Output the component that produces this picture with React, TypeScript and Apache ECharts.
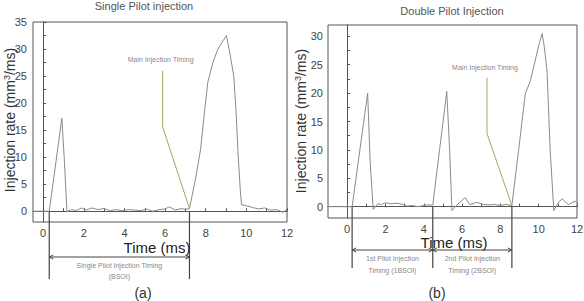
import React, { useEffect, useRef } from "react";
import * as echarts from "echarts";

// Single pilot injection (a)
const singleTime = [-0.5, 0.3, 0.92, 1.05, 1.17, 1.4, 1.6, 1.9, 2.1, 2.4, 2.7, 3.0, 3.3, 3.6, 3.9, 4.2, 4.5, 4.8, 5.1, 5.4, 5.7, 6.0, 6.2, 6.5, 6.8, 7.0, 7.2, 7.5, 7.75, 7.9, 8.1, 8.35, 8.6, 8.85, 9.02, 9.2, 9.38, 9.5, 9.58, 9.7, 9.76, 10.0, 10.3, 10.6, 10.9, 11.2, 11.5, 11.8, 12.0];
const singleRate = [0, 0, 17.2, 9, -0.1, 0.3, 0.1, 0.6, 0.2, 0.6, 0.3, 0.5, 0.1, 0.3, 0.1, 0.3, 0.2, 0.1, 0.4, 0.0, 0.3, 0.4, 0.8, 0.2, 0.5, 0.3, 0.5, 6, 11.5, 17, 23.8, 27.5, 30, 31.5, 32.5, 29, 25, 18, 11.5, 4, 1.2, 1.0, 0.7, 0.4, 0.6, 0.2, 0.3, -0.2, 0.3];

// Double pilot injection (b)
const doubleTime = [-1, 0.26, 1.07, 1.2, 1.36, 1.6, 1.8, 2.0, 2.3, 2.6, 2.9, 3.1, 3.4, 3.7, 4.0, 4.2, 4.47, 5.2, 5.35, 5.47, 5.7, 5.9, 6.16, 6.4, 6.77, 7.1, 7.4, 7.7, 8.0, 8.3, 8.6, 8.95, 9.3, 9.57, 9.8, 10.0, 10.18, 10.3, 10.44, 10.6, 10.79, 11.0, 11.22, 11.55, 11.9, 12.0];
const doubleRate = [0, 0, 20, 8, -0.5, 0.5, 0.4, 0.7, 0.5, 0.6, 0.4, 0.1, 0.2, 0.0, 0.2, 0.3, 0.3, 20.3, 10, -0.7, 0.2, 0.8, 1.6, 0.35, 0.75, 0.4, 0.3, 0.4, 0.2, 0.4, 0.2, 9.9, 19.9, 22.2, 25.5, 28.4, 30.5, 28, 23.7, 9.9, -0.7, 0.6, 1.4, 0.35, 1.0, 0.6];

// Annotation pointer lines ("Main Injection Timing")
const singlePointerTime = [5.88, 5.88, 7.2];
const singlePointerRate = [26, 15.6, 0.5];
const doublePointerTime = [7.3, 7.3, 8.6];
const doublePointerRate = [22.7, 12.9, 0.2];

// Injection timing markers (ms)
const singleMarks = [0.3, 7.2];
const doubleMarks = [0.26, 4.47, 8.6];

// Tick labels
const xTicks = [0, 2, 4, 6, 8, 10, 12];
const xMinor = [0, 1, 2, 3, 4, 5, 6, 7, 8, 9, 10, 11, 12];
const singleYTicks = [0, 5, 10, 15, 20, 25, 30, 35];
const singleYMinor = [0, 2.5, 5, 7.5, 10, 12.5, 15, 17.5, 20, 22.5, 25, 27.5, 30, 32.5, 35];
const doubleYTicks = [0, 5, 10, 15, 20, 25, 30];
const doubleYMinor = [0, 2.5, 5, 7.5, 10, 12.5, 15, 17.5, 20, 22.5, 25, 27.5, 30];

const FONT = "Liberation Sans";
const AXIS = "#555";
const LINE = "#8a8a8a";
const OLIVE = "#a8a65c";

const zip = (a: number[], b: number[]) => a.map((v, i) => [v, b[i]]);

function xAxisOpt(gridIndex: number, min: number) {
  return {
    type: "value",
    gridIndex,
    min,
    max: 12,
    axisLine: { show: true, lineStyle: { color: AXIS, width: 1 } },
    axisTick: { show: true, inside: true, length: 3, customValues: xMinor, lineStyle: { color: AXIS } },
    axisLabel: { customValues: xTicks, color: "#444", fontSize: 11, fontFamily: FONT, margin: 5 },
    splitLine: { show: false },
  };
}

function yAxisOpt(gridIndex: number, min: number, max: number, ticks: number[], minor: number[], margin: number) {
  return {
    type: "value",
    gridIndex,
    min,
    max,
    axisLine: { show: true, lineStyle: { color: AXIS, width: 1 } },
    axisTick: { show: true, inside: true, length: 3, customValues: minor, lineStyle: { color: AXIS } },
    axisLabel: { customValues: ticks, color: "#444", fontSize: 11, fontFamily: FONT, margin },
    splitLine: { show: false },
  };
}

export default function App() {
  const ref = useRef<HTMLDivElement>(null);
  useEffect(() => {
    if (!ref.current) return;
    const chart = echarts.init(ref.current, undefined, { renderer: "svg" });
    chart.setOption({
      animation: false,
      backgroundColor: "#fff",
      grid: [
        { left: 33, top: 22, width: 254, height: 200, show: true, borderColor: AXIS, borderWidth: 1, backgroundColor: "transparent", containLabel: false, outerBoundsMode: "none" },
        { left: 328, top: 25, width: 249, height: 193, show: true, borderColor: AXIS, borderWidth: 1, backgroundColor: "transparent", containLabel: false, outerBoundsMode: "none" },
      ],
      xAxis: [xAxisOpt(0, -0.5), xAxisOpt(1, -1)],
      yAxis: [
        yAxisOpt(0, -2, 35, singleYTicks, singleYMinor, 6),
        yAxisOpt(1, -2, 32, doubleYTicks, doubleYMinor, 5),
      ],
      series: [
        { type: "line", xAxisIndex: 0, yAxisIndex: 0, data: zip(singleTime, singleRate), showSymbol: false, lineStyle: { color: LINE, width: 1 }, silent: true },
        { type: "line", xAxisIndex: 1, yAxisIndex: 1, data: zip(doubleTime, doubleRate), showSymbol: false, lineStyle: { color: LINE, width: 1 }, silent: true },
        { type: "line", xAxisIndex: 0, yAxisIndex: 0, data: zip(singlePointerTime, singlePointerRate), showSymbol: false, lineStyle: { color: OLIVE, width: 1 }, silent: true },
        { type: "line", xAxisIndex: 1, yAxisIndex: 1, data: zip(doublePointerTime, doublePointerRate), showSymbol: false, lineStyle: { color: OLIVE, width: 1 }, silent: true },
      ],
    });

    const px = (g: number, x: number, y: number) =>
      chart.convertToPixel({ xAxisIndex: g, yAxisIndex: g } as any, [x, y]) as number[];

    const graphics: any[] = [];
    const dark = "#444";
    const textGray = "#888";
    const smallText = (x: number, y: number, text: string) => ({
      type: "text", x, y,
      style: { text, fontSize: 7, fontFamily: FONT, fill: textGray, align: "center", verticalAlign: "middle" },
      silent: true,
    });
    const arrowLine = (x1: number, x2: number, y: number) => {
      graphics.push({ type: "line", shape: { x1, y1: y, x2, y2: y }, style: { stroke: dark, lineWidth: 1 }, silent: true });
      graphics.push({ type: "polyline", shape: { points: [[x1 + 4, y - 2], [x1, y], [x1 + 4, y + 2]] }, style: { stroke: dark, lineWidth: 1, fill: null }, silent: true });
      graphics.push({ type: "polyline", shape: { points: [[x2 - 4, y - 2], [x2, y], [x2 - 4, y + 2]] }, style: { stroke: dark, lineWidth: 1, fill: null }, silent: true });
    };

    // Left panel markers
    const sm = singleMarks.map((t) => px(0, t, 0));
    sm.forEach((p) => graphics.push({ type: "line", shape: { x1: p[0], y1: p[1], x2: p[0], y2: 279 }, style: { stroke: dark, lineWidth: 1.2 }, silent: true }));
    arrowLine(sm[0][0], sm[1][0], 257);
    graphics.push(smallText((sm[0][0] + sm[1][0]) / 2, 265, "Single Pilot Injection Timing"));
    graphics.push(smallText((sm[0][0] + sm[1][0]) / 2, 276, "(BSOI)"));

    // Right panel markers
    const dm = doubleMarks.map((t) => px(1, t, 0));
    dm.forEach((p) => graphics.push({ type: "line", shape: { x1: p[0], y1: p[1], x2: p[0], y2: 268 }, style: { stroke: dark, lineWidth: 1.2 }, silent: true }));
    arrowLine(dm[0][0], dm[1][0], 250);
    arrowLine(dm[1][0], dm[2][0], 250);
    graphics.push(smallText((dm[0][0] + dm[1][0]) / 2, 258, "1st Pilot Injection"));
    graphics.push(smallText((dm[0][0] + dm[1][0]) / 2, 270, "Timing (1BSOI)"));
    graphics.push(smallText((dm[1][0] + dm[2][0]) / 2, 258, "2nd Pilot Injection"));
    graphics.push(smallText((dm[1][0] + dm[2][0]) / 2, 270, "Timing (2BSOI)"));

    // Annotation labels
    const sa = px(0, singlePointerTime[0], singlePointerRate[0]);
    graphics.push(smallText(sa[0] - 2, sa[1] - 11, "Main Injection Timing"));
    const da = px(1, doublePointerTime[0], doublePointerRate[0]);
    graphics.push(smallText(da[0] - 2, da[1] - 10, "Main Injection Timing"));

    // Y axis titles (rotated)
    const yTitle = (x: number, y: number) => ({
      type: "text", x, y, rotation: Math.PI / 2,
      style: {
        text: "{n|Injection rate (mm}{s|3}{n|/ms)}",
        align: "center", verticalAlign: "middle",
        rich: {
          n: { fontSize: 14, lineHeight: 15, fontFamily: FONT, fill: "#333" },
          s: { fontSize: 9, lineHeight: 15, fontFamily: FONT, fill: "#333", verticalAlign: "top" },
        },
      },
      silent: true,
    });
    graphics.push(yTitle(10, 120));
    graphics.push(yTitle(301, 121));

    // Titles, axis titles, captions
    const big = (x: number, y: number, text: string, size: number, fill: string) => ({
      type: "text", x, y,
      style: { text, fontSize: size, fontFamily: FONT, fill, align: "center", verticalAlign: "middle" },
      silent: true,
    });
    graphics.push(big(144, 6, "Single Pilot injection", 11, "#555"));
    graphics.push(big(452, 11, "Double Pilot Injection", 11, "#555"));
    graphics.push(big(157, 247, "Time (ms)", 15, "#222"));
    graphics.push(big(454, 242, "Time (ms)", 15, "#222"));
    graphics.push(big(143, 293, "(a)", 14, "#333"));
    graphics.push(big(437, 293, "(b)", 14, "#333"));

    chart.setOption({ graphic: graphics });
    return () => chart.dispose();
  }, []);
  return <div ref={ref} style={{ width: 584, height: 301, position: "absolute", left: 0, top: 0 }} />;
}
